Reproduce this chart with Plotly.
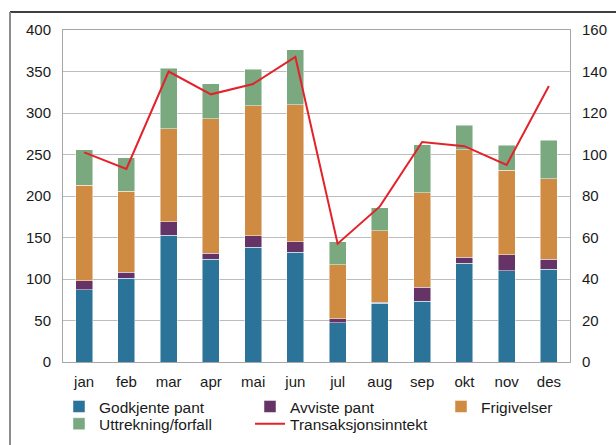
import plotly.graph_objects as go

months = ["jan", "feb", "mar", "apr", "mai", "jun", "jul", "aug", "sep", "okt", "nov", "des"]
godkjente = [87, 101, 153, 124, 138, 132, 47, 71, 73, 119, 110, 112]
avviste = [11, 7, 16, 7, 14, 13, 5, 1, 17, 7, 19, 12]
frigivelser = [115, 98, 112, 162, 157, 165, 65, 86, 114, 130, 102, 97]
uttrekning = [43, 40, 73, 42, 44, 66, 28, 28, 58, 29, 30, 46]
transaksjon = [101, 93, 140, 129, 134, 147, 57, 75, 106, 104, 95, 133]

left_ticks = list(range(0, 401, 50))
right_ticks = list(range(0, 161, 20))

FAM = "Liberation Sans, Arial, sans-serif"
font = dict(family=FAM, size=15, color="#1a1a1a")
lfont = dict(family=FAM, size=15.5, color="#1a1a1a")
outline = dict(color="rgba(255,255,255,0.6)", width=0.8)

fig = go.Figure()
for name, vals, col, lg in [
    ("Godkjente pant", godkjente, "#2b7399", "legend"),
    ("Avviste pant", avviste, "#653366", "legend"),
    ("Frigivelser", frigivelser, "#cf8b41", "legend"),
    ("Uttrekning/forfall", uttrekning, "#7aa87f", "legend2"),
]:
    fig.add_trace(go.Bar(x=months, y=vals, name=name, legend=lg,
                         marker=dict(color=col, line=outline)))

fig.add_trace(go.Scatter(x=months, y=transaksjon, name="Transaksjonsinntekt", mode="lines",
                         line=dict(color="#e3222b", width=2), yaxis="y2", legend="legend2"))

PW, PH = 507, 332
LX = (99 - 40 - 63) / PW
common_leg = dict(orientation="h", traceorder="normal", xanchor="left", yanchor="top",
                  entrywidth=146, entrywidthmode="pixels", tracegroupgap=0,
                  font=lfont, itemwidth=30, bgcolor="rgba(0,0,0,0)")
fig.update_layout(
    width=616, height=445,
    margin=dict(l=63, r=46, t=30, b=83, autoexpand=False),
    barmode="stack", bargap=0.6,
    plot_bgcolor="white", paper_bgcolor="white",
    font=font,
    showlegend=True,
    legend=dict(x=LX, y=-0.084, **common_leg),
    legend2=dict(x=LX, y=-0.136, **common_leg),
    xaxis=dict(showgrid=False, showline=True, linecolor="#a6a6a6", linewidth=1,
               ticks="", tickfont=font, mirror=True, ticklabelstandoff=6),
    yaxis=dict(range=[0, 400], tickvals=left_ticks, showgrid=True, gridcolor="#bdbdbd",
               gridwidth=1, showline=True, linecolor="#a6a6a6", mirror=True, ticks="",
               tickfont=font, zeroline=False, ticklabelstandoff=8),
    yaxis2=dict(range=[0, 160], tickvals=right_ticks, overlaying="y", side="right",
                showgrid=False, showline=False, ticks="", tickfont=font, zeroline=False,
                ticklabelstandoff=11),
    shapes=[
        dict(type="line", xref="paper", yref="paper", x0=(10 - 63) / PW, x1=1.2,
             y0=(362 - 12) / PH, y1=(362 - 12) / PH, line=dict(color="black", width=1.5)),
        dict(type="line", xref="paper", yref="paper", x0=(10 - 63) / PW, x1=(10 - 63) / PW,
             y0=(362 - 12) / PH, y1=-0.3, line=dict(color="#8c8c8c", width=2)),
    ],
)

fig.write_html("out.html", config={"displayModeBar": False},
               post_script="document.body.style.margin='0';")
